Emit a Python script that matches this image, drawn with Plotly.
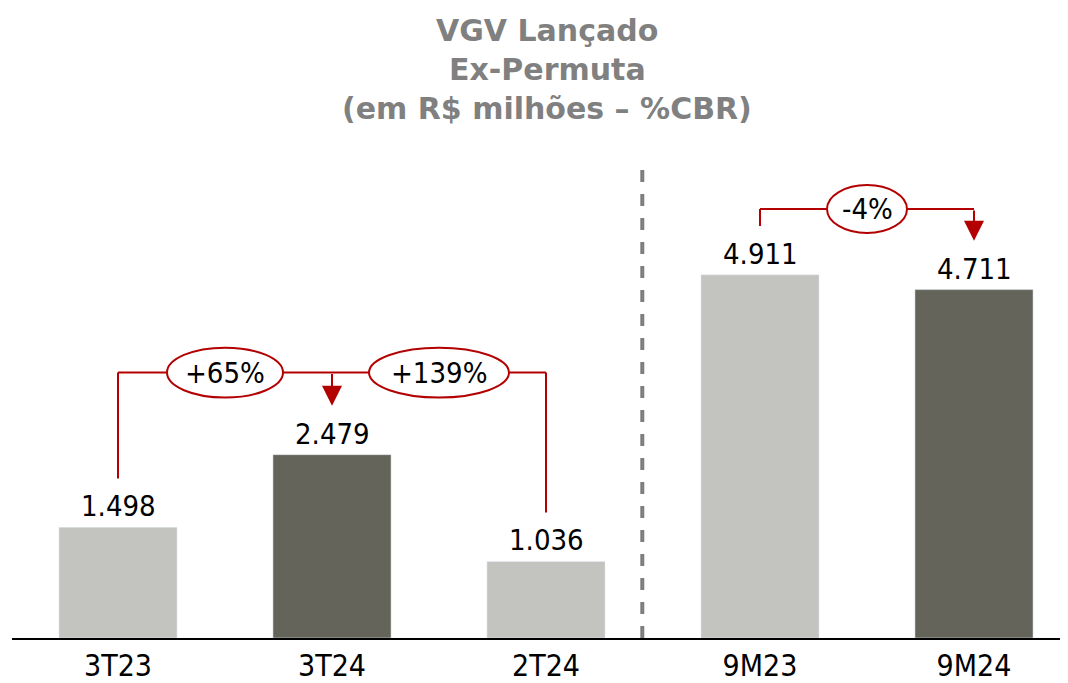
import plotly.graph_objects as go

categories = ["3T23", "3T24", "2T24", "9M23", "9M24"]
values = [1.498, 2.479, 1.036, 4.911, 4.711]
value_labels = ["1.498", "2.479", "1.036", "4.911", "4.711"]
bar_colors = ["#c3c4bf", "#64645a", "#c3c4bf", "#c3c4bf", "#64645a"]
title_lines = ["VGV Lançado", "Ex-Permuta", "(em R$ milhões – %CBR)"]

# comparisons: (from index, to index, label)
comparisons = [(0, 1, "+65%"), (2, 1, "+139%"), (3, 4, "-4%")]

FONT = "DejaVu Sans Condensed, DejaVu Sans, sans-serif"
TFONT = "DejaVu Sans, sans-serif"
RED = "#b30000"
PX_X = 214.0   # pixels per category unit
PX_Y = 74.1    # pixels per value unit

x = list(range(len(categories)))

fig = go.Figure()
fig.add_trace(go.Bar(
    x=x, y=values, marker_color=bar_colors, width=0.552,
    hoverinfo="skip", showlegend=False,
))

annotations = []
shapes = []

# value labels
for xi, v, lab in zip(x, values, value_labels):
    annotations.append(dict(x=xi, y=v, text=lab, showarrow=False, yanchor="bottom",
                            yshift=2, font=dict(family=FONT, size=29, color="#000000")))

gap = 0.66
yb_left = max(values[0], values[1], values[2]) + 1.11
yb_right = max(values[3], values[4]) + 0.89

def vline(x0, y0, y1):
    shapes.append(dict(type="line", xref="x", yref="y", x0=x0, x1=x0, y0=y0, y1=y1,
                       line=dict(color=RED, width=2)))

def hline(x0, x1, y0):
    shapes.append(dict(type="line", xref="x", yref="y", x0=x0, x1=x1, y0=y0, y1=y0,
                       line=dict(color=RED, width=2)))

def arrow(xi, y_top, y_tip):
    annotations.append(dict(x=xi, y=y_tip, ax=xi, ay=y_top, xref="x", yref="y",
                            axref="x", ayref="y", text="", showarrow=True,
                            arrowhead=2, arrowsize=2, arrowwidth=2, arrowcolor=RED,
                            standoff=0))

def ellipse(xc, yc, rx_px, ry_px, text):
    shapes.append(dict(type="circle", xref="x", yref="y",
                       x0=xc - rx_px / PX_X, x1=xc + rx_px / PX_X,
                       y0=yc - ry_px / PX_Y, y1=yc + ry_px / PX_Y,
                       fillcolor="#ffffff", line=dict(color=RED, width=2), layer="above"))
    annotations.append(dict(x=xc, y=yc, text=text, showarrow=False, xref="x", yref="y",
                            font=dict(family=FONT, size=29, color="#000000")))

# left bracket
vline(0, values[0] + gap, yb_left)
hline(0, 2, yb_left)
vline(2, values[2] + gap, yb_left)
arrow(1, yb_left, values[1] + gap)
# right bracket
vline(3, values[3] + gap, yb_right)
hline(3, 4, yb_right)
arrow(4, yb_right, values[4] + gap)

ellipse(0.5, yb_left, 58, 25, comparisons[0][2])
ellipse(1.5, yb_left, 70, 25, comparisons[1][2])
ellipse(3.5, yb_right, 40, 24, comparisons[2][2])

# dashed separator
shapes.append(dict(type="line", xref="x", yref="y", x0=2.45, x1=2.45, y0=0, y1=6.44,
                   line=dict(color="#7f7f7f", width=4, dash="dash"), layer="below"))

# title
plot_top, plot_bottom = 140, 639
for line, py in zip(title_lines, [30, 69, 108]):
    annotations.append(dict(x=0.507, y=(plot_bottom - py) / (plot_bottom - plot_top),
                            xref="paper", yref="paper", text="<b>%s</b>" % line,
                            showarrow=False, yanchor="middle",
                            font=dict(family=TFONT, size=30, color="#808080")))

# page body has an 8px default margin; compensate so the plot area lands where intended
fig.update_layout(
    width=1060, height=675,
    margin=dict(l=4, r=0, t=132, b=36),
    plot_bgcolor="#ffffff", paper_bgcolor="#ffffff",
    xaxis=dict(range=[-106 / PX_X, 950 / PX_X], tickvals=x, ticktext=categories,
               showgrid=False, zeroline=False, showline=True, linecolor="#000000",
               linewidth=2, ticks="", tickfont=dict(family=FONT, size=30, color="#000000"),
               fixedrange=True),
    yaxis=dict(range=[0, 499 / PX_Y], visible=False, showgrid=False, zeroline=False,
               fixedrange=True),
    shapes=shapes,
    annotations=annotations,
    showlegend=False,
)

fig.write_html("out.html")
